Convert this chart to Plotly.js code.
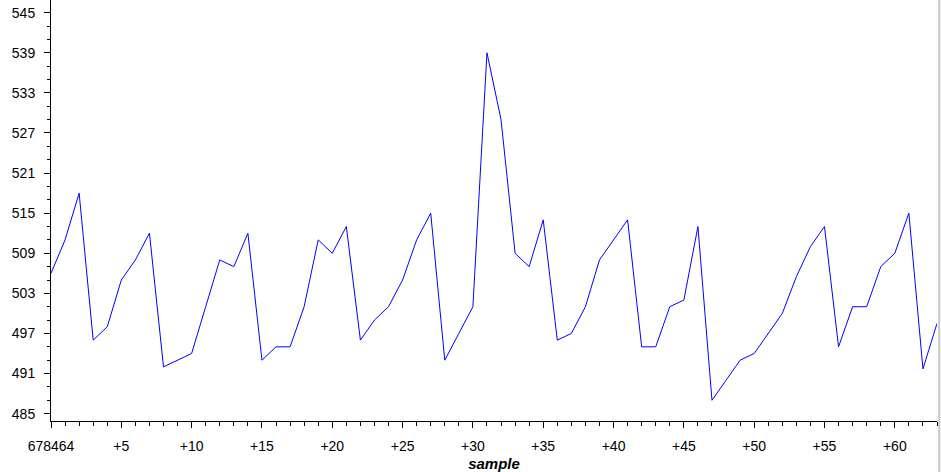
<!DOCTYPE html>
<html>
<head>
<meta charset="utf-8">
<script src="https://cdn.plot.ly/plotly-3.0.1.min.js"></script>
<style>html,body{margin:0;padding:0;background:#fff;}#chart{width:941px;height:472px;}</style>
</head>
<body>
<div id="chart"></div>
<script>
// sample offsets from 678464
const sampleOffsets = [0,1,2,3,4,5,6,7,8,9,10,11,12,13,14,15,16,17,18,19,20,21,22,23,24,25,26,27,28,29,30,31,32,33,34,35,36,37,38,39,40,41,42,43,44,45,46,47,48,49,50,51,52,53,54,55,56,57,58,59,60,61,62,63];
const values = [506,511,518,496,498,505,508,512,492,493,494,501,508,507,512,493,495,495,501,511,509,513,496,499,501,505,511,515,493,497,501,539,529,509,507,514,496,497,501,508,511,514,495,495,501,502,513,487,490,493,494,497,500,505.5,510,513,495,501,501,507,509,515,491.7,498.5];
const xTickVals = [0,5,10,15,20,25,30,35,40,45,50,55,60];
const xTickText = ["678464","+5","+10","+15","+20","+25","+30","+35","+40","+45","+50","+55","+60"];
const yTick0 = 485, yDtick = 6;

const tickFont = {family: "Liberation Sans, Arial, sans-serif", size: 14, color: "#000"};

Plotly.newPlot("chart", [{
  x: sampleOffsets, y: values, type: "scatter", mode: "lines",
  line: {color: "#0000ff", width: 1}, hoverinfo: "none"
}], {
  width: 941, height: 472,
  margin: {l: 51, r: 4, t: 0, b: 51, pad: 0},
  paper_bgcolor: "#fff", plot_bgcolor: "#fff",
  showlegend: false,
  xaxis: {
    range: [0, 63], showgrid: false, zeroline: false,
    showline: true, linecolor: "#000", linewidth: 1,
    ticks: "outside", ticklen: 6, tickcolor: "#000", tickwidth: 1,
    tickvals: xTickVals, ticktext: xTickText, tickfont: tickFont,
    ticklabelstandoff: 6,
    minor: {dtick: 1, tick0: 0, ticks: "outside", ticklen: 4, tickcolor: "#000", showgrid: false},
    title: {text: "<b><i>sample</i></b>", font: {family: "Liberation Sans, Arial, sans-serif", size: 15, color: "#000"}, standoff: 6}
  },
  yaxis: {
    range: [483.9, 546.9], showgrid: false, zeroline: false,
    showline: true, linecolor: "#000", linewidth: 1,
    ticks: "outside", ticklen: 6, tickcolor: "#000", tickwidth: 1,
    tick0: yTick0, dtick: yDtick, tickfont: tickFont,
    ticklabelstandoff: 6,
    minor: {dtick: 2, tick0: yTick0, ticks: "outside", ticklen: 3, tickcolor: "#000", showgrid: false}
  },
  shapes: [{type: "line", xref: "paper", yref: "paper", x0: 1.0025, x1: 1.0025, y0: -0.2, y1: 1, line: {color: "#c8c8c8", width: 2}}]
}, {staticPlot: true, displayModeBar: false});
</script>
</body>
</html>
